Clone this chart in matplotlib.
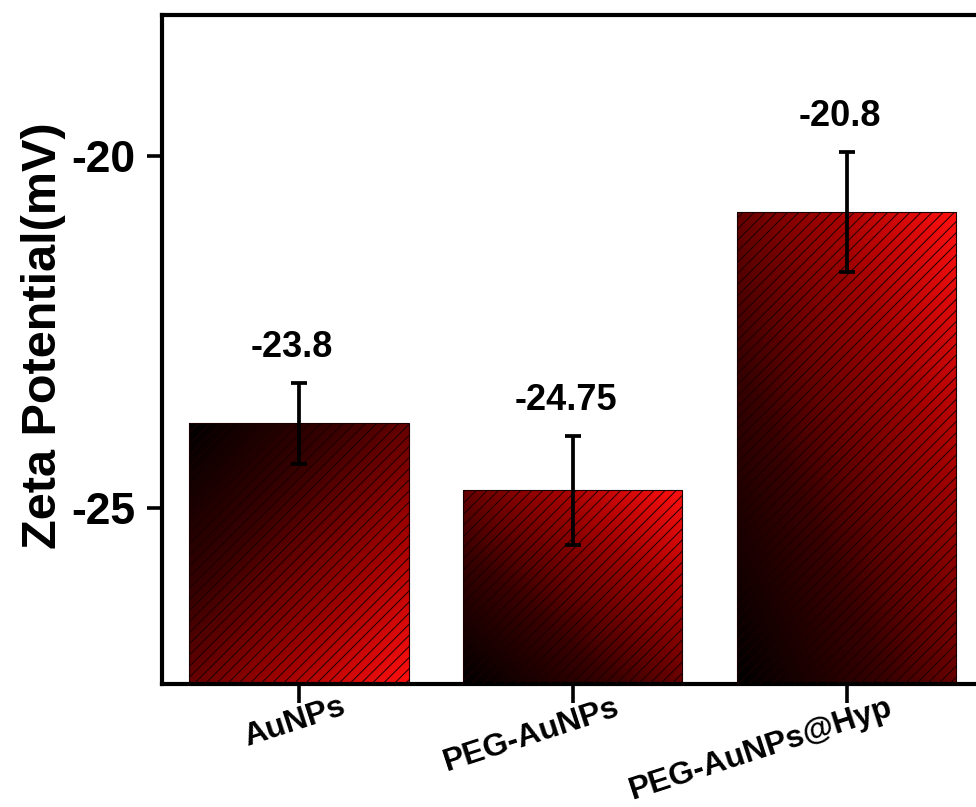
import matplotlib
matplotlib.use('Agg')
import matplotlib.pyplot as plt
import matplotlib.transforms as mtransforms
from matplotlib.colors import LinearSegmentedColormap
import numpy as np

samples = ['AuNPs', 'PEG-AuNPs', 'PEG-AuNPs@Hyp']
zeta = [-23.8, -24.75, -20.8]
zeta_err = [0.57, 0.77, 0.85]
value_labels = ['-23.8', '-24.75', '-20.8']
# gradient direction per bar: True = dark at top-left, False = dark at bottom-left
dark_top = [True, False, False]

plt.rcParams['font.family'] = ['Liberation Sans', 'DejaVu Sans']
plt.rcParams['font.weight'] = 'bold'
plt.rcParams['hatch.linewidth'] = 0.7

fig = plt.figure(figsize=(9.76, 8.07), dpi=100)
ax = fig.add_axes([0.166, 0.1524, 1.008 - 0.166, 0.9814 - 0.1524])

ymin, ymax = -27.5, -18.0
x = np.arange(len(samples))
heights = [v - ymin for v in zeta]

cmap = LinearSegmentedColormap.from_list(
    'blkred', [(0, '#000000'), (0.35, '#3a0000'), (0.7, '#a00000'), (1.0, '#ff1010')])

bars = ax.bar(x, heights, width=0.8, bottom=ymin, color='none',
              edgecolor='#1a0000', linewidth=0.8, hatch='///', zorder=3)

for b, top_dark in zip(bars, dark_top):
    bx, by = b.get_x(), b.get_y()
    bw, bh = b.get_width(), b.get_height()
    gx = np.linspace(0, 1, 200)
    gy = np.linspace(0, 1, 400)
    GX, GY = np.meshgrid(gx, gy)
    if top_dark:
        grad = (GX + GY) / 2
    else:
        grad = (GX + (1 - GY)) / 2
    im = ax.imshow(grad, cmap=cmap, extent=[bx, bx + bw, by, by + bh],
                   origin='upper', aspect='auto', zorder=2, vmin=0, vmax=1)
    im.set_clip_path(b)

ax.errorbar(x, zeta, yerr=zeta_err, fmt='none', ecolor='black',
            elinewidth=2.7, capsize=6, capthick=2.7, zorder=4)

for xi, v, e, lab in zip(x, zeta, zeta_err, value_labels):
    ax.annotate(lab, xy=(xi, v + e), xytext=(-5, 19), textcoords='offset points',
                ha='center', va='baseline', fontsize=26, fontweight='bold')

ax.set_xlim(-0.5, 2.5)
ax.set_ylim(ymin, ymax)
ax.set_yticks([-25, -20])
ax.set_yticklabels(['-25', '-20'])
ax.set_xticks(x)
ax.tick_params(axis='x', labelbottom=False)

# rotated category labels, right end a bit past each tick
trans = mtransforms.blended_transform_factory(ax.transData, ax.transAxes)
shift = mtransforms.ScaledTranslation(0.5, -0.08, fig.dpi_scale_trans)
for xi, name in zip(x, samples):
    ax.text(xi, 0, name, transform=trans + shift, rotation=18,
            ha='right', va='top', fontsize=23, fontweight='bold')

ax.tick_params(axis='y', direction='out', length=11, width=2.6, labelsize=32, pad=8)
ax.tick_params(axis='x', direction='out', length=14, width=2.6)
for s in ax.spines.values():
    s.set_linewidth(3)

ax.set_ylabel('Zeta Potential(mV)', fontsize=35, fontweight='bold')
ax.yaxis.set_label_coords(-0.117, 0.52)

fig.savefig('out.png', dpi=100)
